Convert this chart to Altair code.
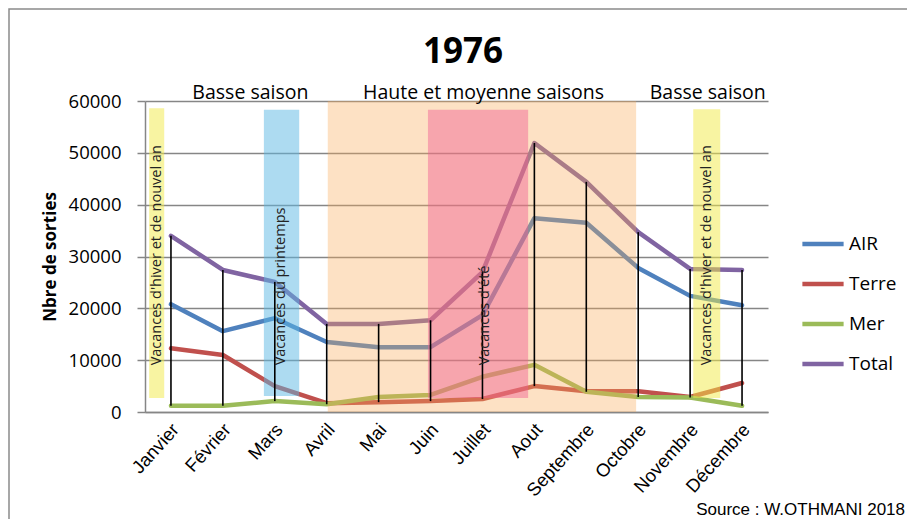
import altair as alt
import pandas as pd

months = ["Janvier", "Février", "Mars", "Avril", "Mai", "Juin", "Juillet",
          "Aout", "Septembre", "Octobre", "Novembre", "Décembre"]
series = ["AIR", "Terre", "Mer", "Total"]
colors = ["#4F81BD", "#C0504D", "#9BBB59", "#8064A2"]
air = [20800, 15600, 18100, 13500, 12500, 12500, 18700, 37400, 36500, 27800, 22400, 20600]
terre = [12300, 11000, 5000, 1700, 1900, 2100, 2500, 5000, 4000, 4000, 2900, 5600]
mer = [1200, 1200, 2100, 1500, 2900, 3300, 6800, 9100, 3900, 2900, 2800, 1200]
total = [34000, 27400, 25100, 17000, 17000, 17700, 27000, 51900, 44400, 34700, 27600, 27400]

# shaded periods (x in month index units, y in number of departures)
band_x = [-0.42, 1.79, 3.02, 4.95, 10.06]
band_x2 = [-0.13, 2.47, 8.96, 6.88, 10.58]
band_y = [2700, 3100, 0, 2700, 2700]
band_y2 = [58600, 58300, 60000, 58300, 58400]
band_color = ["#F1E945", "#5BB7E3", "#F9A956", "#F05D93", "#F1E945"]
band_opacity = [0.5, 0.5, 0.35, 0.45, 0.5]

holiday_text = ["Vacances d'hiver et de nouvel an", "Vacances du printemps",
                "Vacances d'été", "Vacances d'hiver et de nouvel an"]
holiday_x = [-0.27, 2.12, 6.05, 10.33]
holiday_y = [9000, 9000, 9000, 9000]

season_text = ["Basse saison", "Haute et moyenne saisons", "Basse saison"]
season_x = [1.53, 6.02, 10.34]
season_y = [60000, 60000, 60000]

values = {"AIR": air, "Terre": terre, "Mer": mer, "Total": total}
rows = []
for s in series:
    for i, v in enumerate(values[s]):
        rows.append({"m": i, "serie": s, "v": v})
df = pd.DataFrame(rows)

hl = pd.DataFrame({
    "m": list(range(12)),
    "lo": [min(a, b, c, d) for a, b, c, d in zip(air, terre, mer, total)],
    "hi": [max(a, b, c, d) for a, b, c, d in zip(air, terre, mer, total)],
})
bands = pd.DataFrame({"x": band_x, "x2": band_x2, "y": band_y, "y2": band_y2,
                      "c": band_color, "o": band_opacity})
hol = pd.DataFrame({"t": holiday_text, "x": holiday_x, "y": holiday_y})
sea = pd.DataFrame({"t": season_text, "x": season_x, "y": season_y})

label_expr = "[" + ",".join("'" + m + "'" for m in months) + "][datum.value]"
xscale = alt.Scale(domain=[-0.5, 11.5], nice=False, zero=False)
yscale = alt.Scale(domain=[0, 60000], nice=False)

xaxis = alt.Axis(values=list(range(12)), labelExpr=label_expr, title=None, grid=False,
                 ticks=False, labelAngle=-48, labelAlign="right", labelBaseline="middle",
                 labelOverlap=False, labelFont="Liberation Sans", labelFontSize=18.5,
                 labelColor="#000000", labelPadding=14, labelOffset=4,
                 domainColor="#868686", domainWidth=1.5)
yaxis = alt.Axis(values=[0, 10000, 20000, 30000, 40000, 50000, 60000], format="d",
                 title="Nbre de sorties", titleFont="Open Sans", titleFontSize=17,
                 titleFontWeight="bold", titleColor="#000000", titlePadding=9,
                 labelFont="Open Sans", labelFontSize=18.5, labelColor="#000000",
                 labelPadding=16, tickSize=8, tickColor="#868686", tickWidth=1.5,
                 domainColor="#868686", domainWidth=1.5, gridColor="#868686", gridWidth=1.4)


def X(field):
    return alt.X(field, scale=xscale, axis=xaxis)


def Y(field):
    return alt.Y(field, scale=yscale, axis=yaxis)


lines = alt.Chart(df).mark_line(strokeWidth=4.5, strokeJoin="round", strokeCap="round").encode(
    x=X("m:Q"),
    y=Y("v:Q"),
    color=alt.Color("serie:N", scale=alt.Scale(domain=series, range=colors),
                    legend=alt.Legend(title=None, orient="none", legendX=655, legendY=120,
                                      symbolType="stroke", symbolStrokeWidth=4.5,
                                      symbolSize=1700, labelFont="Open Sans",
                                      labelFontSize=19, labelColor="#000000",
                                      labelOffset=3, rowPadding=7, padding=0)),
    order=alt.Order("m:Q"),
)

rects = alt.Chart(bands).mark_rect().encode(
    x=X("x:Q"), x2="x2:Q",
    y=Y("y:Q"), y2="y2:Q",
    fill=alt.Fill("c:N", scale=None, legend=None),
    opacity=alt.Opacity("o:Q", scale=None, legend=None),
)

rules = alt.Chart(hl).mark_rule(color="#000000", strokeWidth=1.6).encode(
    x=X("m:Q"),
    y=Y("lo:Q"), y2="hi:Q",
)

htext = alt.Chart(hol).mark_text(angle=270, align="left", baseline="middle",
                                 font="Open Sans", fontSize=14.5, color="#222222").encode(
    x=X("x:Q"),
    y=Y("y:Q"),
    text="t:N",
)

stext = alt.Chart(sea).mark_text(align="center", baseline="alphabetic", dy=-2,
                                 font="Open Sans", fontSize=19.5, color="#000000").encode(
    x=X("x:Q"),
    y=Y("y:Q"),
    text="t:N",
)

frame = alt.Chart(pd.DataFrame({"f": [0]})).mark_rect(
    fill=None, stroke="#8a8a8a", strokeWidth=1.5).encode(
    x=alt.value(-136), x2=alt.value(766), y=alt.value(-92), y2=alt.value(450),
)

title = alt.Chart(pd.DataFrame({"t": ["1976"]})).mark_text(
    align="center", baseline="alphabetic", font="Open Sans", fontSize=35,
    fontWeight="bold", color="#000000").encode(
    x=alt.value(318), y=alt.value(-38), text="t:N")

source = alt.Chart(pd.DataFrame({"t": ["Source : W.OTHMANI 2018"]})).mark_text(
    align="right", baseline="alphabetic", font="Liberation Sans", fontSize=17,
    color="#000000").encode(x=alt.value(760), y=alt.value(414), text="t:N")

chart = alt.layer(lines, rects, rules, htext, stext, frame, title, source).properties(
    width=623, height=311,
    background="#ffffff",
    autosize=alt.AutoSizeParams(type="none"),
    padding={"left": 137, "top": 93, "right": 139, "bottom": 107},
).configure_view(stroke=None)

chart.save("out.html", embed_options={"renderer": "svg", "actions": False})
